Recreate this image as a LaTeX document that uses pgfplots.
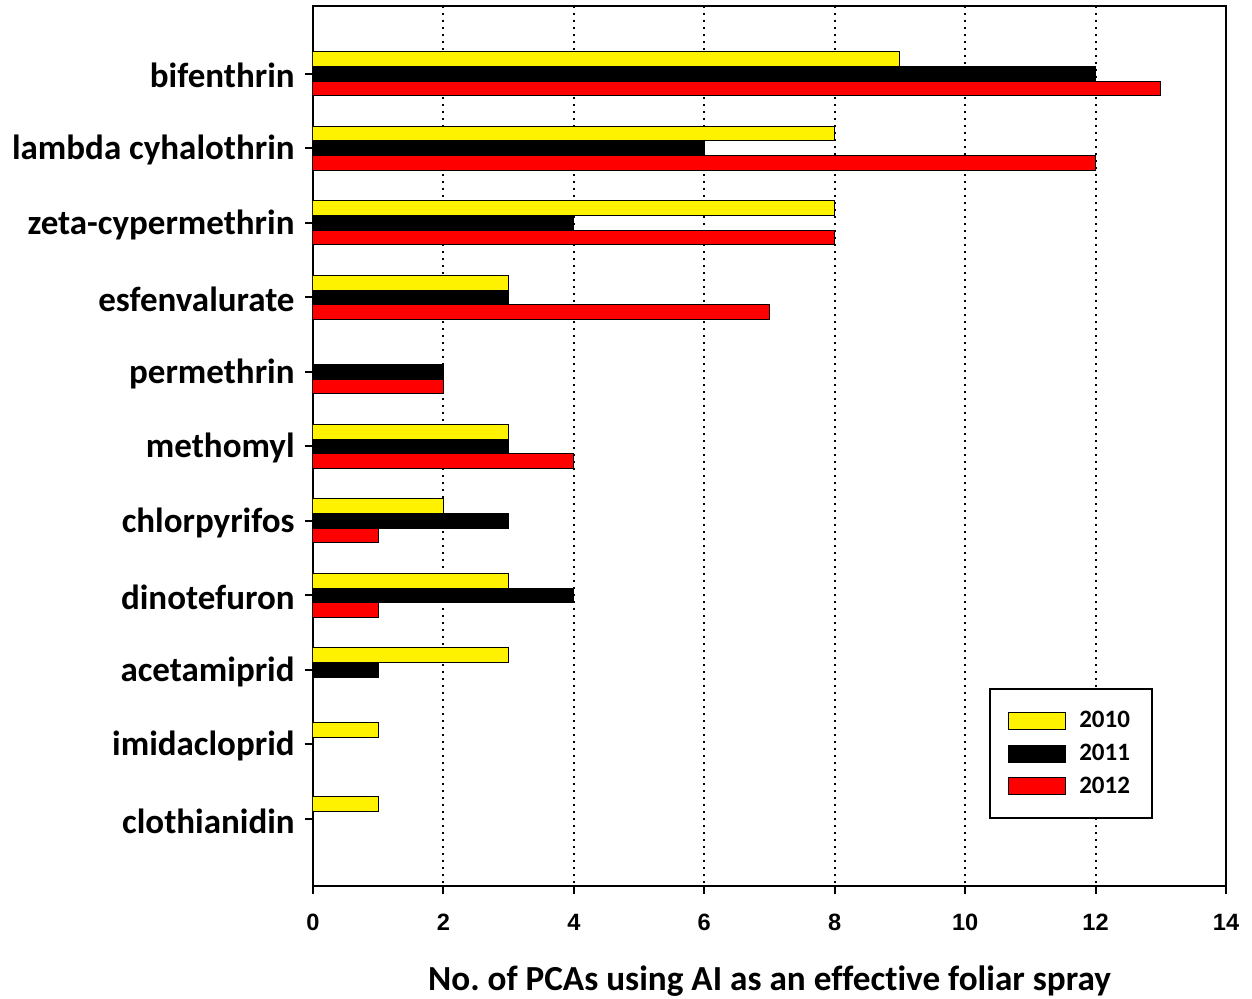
\documentclass[border=0pt]{standalone}
\usepackage{pgfplots}
\pgfplotsset{compat=1.18}
\usepackage{fontspec}
\setmainfont{Carlito}[Ligatures=NoCommon]
\newfontfamily\arialfont{Liberation Sans}
\frenchspacing
\begin{document}
\begin{tikzpicture}
\begin{axis}[
  scale only axis, width=456.5pt, height=440pt,
  xbar, y dir=reverse,
  xmin=0, xmax=14, xtick={0,2,4,6,8,10,12,14},
  xticklabels={0,2,4,6,8,10,12,14},
  ymin=-0.91, ymax=10.9,
  ytick={0,1,2,3,4,5,6,7,8,9,10},
  yticklabels={bifenthrin,lambda cyhalothrin,zeta-cypermethrin,esfenvalurate,permethrin,methomyl,chlorpyrifos,dinotefuron,acetamiprid,imidacloprid,clothianidin},
  bar width=0.197,
  axis line style={line width=1pt},
  tick style={black, line width=1pt},
  tick align=outside, major tick length=4pt, tick pos=left,
  xmajorgrids, grid style={black, line width=1pt, dash pattern=on 1pt off 2.5pt},
  xticklabel style={font=\arialfont\bfseries\fontsize{11.8}{13}\selectfont, anchor=center, yshift=-14pt},
  yticklabel style={font=\bfseries\fontsize{17.5}{20}\selectfont, anchor=east, inner sep=0pt, xshift=-5pt, yshift=-1pt},
  xlabel={No. of PCAs using AI as an effective foliar spray},
  xlabel style={font=\bfseries\fontsize{17.6}{20}\selectfont, at={(axis description cs:0.5,0)}, anchor=center, yshift=-47.5pt},
  every axis plot post/.append style={legend image code/.code={\draw[##1, line width=0.5pt] (0pt,-4.25pt) rectangle (28.5pt,4.25pt); \path (33pt,0pt);}},
  legend style={at={(0.92,0.076)}, anchor=south east, draw=black, line width=1pt, font=\bfseries\fontsize{12.5}{14}\selectfont, inner xsep=9pt, inner ysep=9pt, row sep=2.75pt, legend cell align=left},
]
\addplot[fill=yellow, draw=black, line width=0.5pt, bar shift=-0.197] coordinates {
(9,0) (8,1) (8,2) (3,3) (3,5) (2,6) (3,7) (3,8) (1,9) (1,10)};
\addplot[fill=black, draw=black, line width=0.5pt, bar shift=0] coordinates {
(12,0) (6,1) (4,2) (3,3) (2,4) (3,5) (3,6) (4,7) (1,8)};
\addplot[fill=red, draw=black, line width=0.5pt, bar shift=0.197] coordinates {
(13,0) (12,1) (8,2) (7,3) (2,4) (4,5) (1,6) (1,7)};
\legend{2010,2011,2012}
\end{axis}
\path (current axis.south west) ++(-156.5pt,-56.5pt) coordinate (bl);
\path (current axis.north east) ++(13pt,3pt) coordinate (tr);
\pgfresetboundingbox
\path[use as bounding box] (bl) rectangle (tr);
\end{tikzpicture}
\end{document}
